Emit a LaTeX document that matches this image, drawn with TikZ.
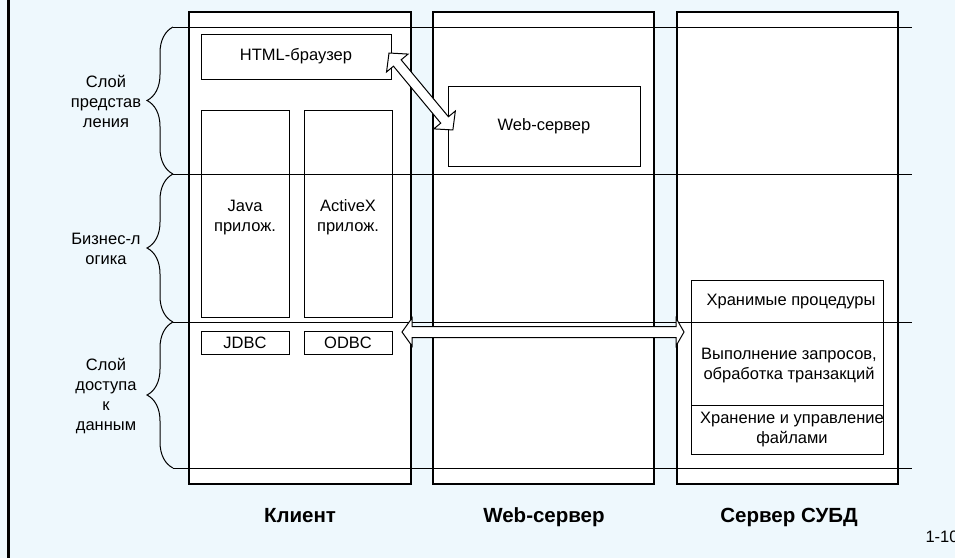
\documentclass[tikz,border=0pt]{standalone}
\usepackage{fontspec}
\setmainfont{Liberation Sans}
\usetikzlibrary{decorations.pathreplacing,calc}
\definecolor{bgblue}{RGB}{238,248,253}
\begin{document}
\begin{tikzpicture}[x=1pt,y=-1pt,
  every node/.style={font=\fontsize{16.5}{20}\selectfont},
  col/.style={draw=black, fill=white, line width=1.2pt, inner sep=0pt, outer sep=0pt, anchor=north west},
  box/.style={draw=black, fill=white, line width=1pt, inner sep=0pt, outer sep=0pt, align=center, anchor=north west},
  layer/.style={draw=black, line width=1pt},
  brc/.style={draw=black, decorate, decoration={brace, amplitude=26pt}, line width=1pt},
  lbl/.style={align=center},
  head/.style={font=\fontsize{20.5}{23}\selectfont\bfseries, anchor=base},
  barrow/.style={draw=black, fill=white, line width=1pt, line join=miter}
]
\fill[bgblue] (0,0) rectangle (955,558);
\useasboundingbox (0,0) rectangle (955,558);
\draw[line width=3pt] (8.5,0) -- (8.5,558);

% columns
\node[col, minimum width=222pt, minimum height=472pt] (client) at (189,12) {};
\node[col, minimum width=221pt, minimum height=472pt] (websrv) at (433,12) {};
\node[col, minimum width=221pt, minimum height=472pt] (dbsrv) at (677,12) {};

% client boxes
\node[box, minimum width=190pt, minimum height=45pt] (html) at (201,34) {HTML-браузер};
\node[box, minimum width=88pt, minimum height=207pt] (java) at (201,110) {};
\node[box, minimum width=88pt, minimum height=207pt] (activex) at (304,110) {};
\node[lbl] (javat) at ($(java.center)+(0,4)$) {Java\\прилож.};
\node[lbl] (activext) at ($(activex.center)+(0,4)$) {ActiveX\\прилож.};
\node[box, minimum width=88pt, minimum height=23pt] (jdbc) at (201,331) {JDBC};
\node[box, minimum width=88pt, minimum height=23pt] (odbc) at (304,331) {ODBC};

% web server box
\node[box, minimum width=192pt, minimum height=80pt] (web) at (448,86) {Web-сервер};

% DB stack
\node[box, minimum width=192pt, minimum height=42pt] (st1) at (691,280) {};
\node[box, minimum width=192pt, minimum height=83pt] (st2) at (691,322) {};
\node[box, minimum width=192pt, minimum height=49pt] (st3) at (691,405) {};
\node[lbl] (t1) at ($(st1.center)+(4,1)$) {Хранимые процедуры};

% layer lines
\coordinate (l0) at (173,27);  \coordinate (r0) at (912,27);
\coordinate (l1) at (173,174); \coordinate (r1) at (912,174);
\coordinate (l2) at (173,322); \coordinate (r2) at (912,322);
\coordinate (l3) at (173,468); \coordinate (r3) at (912,468);
\draw[layer] (l0) -- (r0);
\draw[layer] (l1) -- (r1);
\draw[layer] (l2) -- (r2);
\draw[layer] (l3) -- (r3);

% braces
\draw[brc] (l1) -- (l0);
\draw[brc] (l2) -- (l1);
\draw[brc] (l3) -- (l2);

% layer labels
\node[lbl] (lab1) at (106,101) {Слой\\представ\\ления};
\node[lbl] (lab2) at (106,249) {Бизнес-л\\огика};
\node[lbl] (lab3) at (106,396) {Слой\\доступа\\к\\данным};

% arrows
\coordinate (da) at (389,53);
\coordinate (db) at (453,130);
\begin{scope}[shift={(da)}, rotate=-50.3]
\draw[barrow] (0,0) -- (13,14) -- (13,5) -- (87,5) -- (87,14) -- (100,0) -- (87,-14) -- (87,-5) -- (13,-5) -- (13,-14) -- cycle;
\end{scope}
\coordinate (ha) at (402,332);
\coordinate (hb) at (684,332);
\begin{scope}[shift={(ha)}]
\draw[barrow] (0,0) -- (10,-14) -- (10,-5.5) -- (274,-5.5) -- (274,-14) -- (282,0) -- (274,14) -- (274,5.5) -- (10,5.5) -- (10,14) -- cycle;
\end{scope}

\node[lbl] (t2) at ($(st2.center)+(2,2)$) {Выполнение запросов,\\ обработка транзакций};
\node[lbl] (t3) at ($(st3.center)+(5,0)$) {Хранение и управление\\файлами};

% column titles
\node[head] (hclient) at (300,522) {Клиент};
\node[head] (hweb) at (544,522) {Web-сервер};
\node[head] (hdb) at (789,522) {Сервер СУБД};
\node[anchor=base west] (pg) at (922,542) {1-10};
\end{tikzpicture}
\end{document}
